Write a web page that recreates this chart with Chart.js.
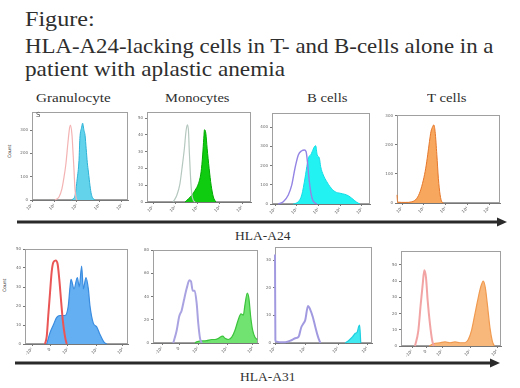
<!DOCTYPE html>
<html><head><meta charset="utf-8">
<script src="https://cdn.jsdelivr.net/npm/chart.js@4.4.0/dist/chart.umd.min.js"></script>
<style>
html,body{margin:0;padding:0;background:#fff;}
#root{position:relative;width:520px;height:388px;overflow:hidden;color:#2e2e2e;}
.t{position:absolute;white-space:nowrap;transform-origin:0 0;line-height:1;font-family:"Liberation Serif","DejaVu Serif","Times New Roman",serif;}
canvas{position:absolute;}
</style></head><body><div id="root"></div>
<script>
// ---------- texts ----------
const titleLines = ["Figure:", "HLA-A24-lacking cells in T- and B-cells alone in a", "patient with aplastic anemia"];
const panelTitles = ["Granulocyte", "Monocytes", "B cells", "T cells"];
const markerLabels = ["HLA-A24", "HLA-A31"];
const yAxisTitle = "Count";
// ---------- tick labels ----------
const logTickLabels = ["10¹", "10²", "10³", "10⁴", "10⁵"];
const biexpTickLabels = ["-10²", "0", "10²", "10³", "10⁴"];
const logTickLabels4 = ["10¹", "10²", "10³", "10⁴"];
// ---------- HLA-A24 row (x in decades) ----------
const granA24CtrlX  = [1.02,1.2,1.33,1.42,1.51,1.6,1.67,1.71,1.78,1.82,1.87,1.91,1.96,2.0];
const granA24CtrlY  = [0,13,48,96,157,248,309,322,278,213,126,48,9,0];
const granA24StainX = [1.76,1.87,1.91,2.01,2.09,2.13,2.21,2.25,2.31,2.36,2.41,2.46,2.51,2.58,2.64,2.70,2.8];
const granA24StainY = [0,9,17,91,170,265,313,330,300,278,220,161,120,61,25,9,0];
const monoA24CtrlX  = [0.9,1.07,1.21,1.32,1.41,1.48,1.54,1.59,1.63,1.68,1.74,1.81,1.89];
const monoA24CtrlY  = [0,4,11,22,32,42,46,43,30,16,5,1,0];
const monoA24StainX = [1.44,1.74,1.89,2.04,2.16,2.23,2.28,2.31,2.37,2.43,2.52,2.61,2.71,2.82];
const monoA24StainY = [0,4,7,11,18,28,38,43,41,32,20,10,3,0];
const bA24CtrlX  = [0.15,0.38,0.61,0.77,0.92,1.07,1.23,1.35,1.43,1.49,1.56,1.64,1.73,1.84,1.92];
const bA24CtrlY  = [0,12,47,99,187,255,277,281,272,220,135,64,21,5,0];
const bA24StainX = [0.84,1.07,1.23,1.38,1.49,1.56,1.64,1.71,1.81,1.87,1.94,2.04,2.10,2.22,2.38,2.53,2.76,2.99,3.22,3.37,3.53,3.76,3.91];
const bA24StainY = [0,12,47,135,213,246,255,272,298,303,255,238,194,151,116,90,64,56,50,43,30,9,0];
const tA24StainX = [-0.23,-0.2,0.14,0.45,0.68,0.83,0.98,1.09,1.18,1.26,1.33,1.41,1.46,1.52,1.6,1.67,1.75,1.83,1.9];
const tA24StainY = [28,3,2,4,16,39,79,120,166,211,246,263,269,246,166,85,28,4,0];
// ---------- HLA-A31 row (x in display channels 0-100) ----------
const granA31CtrlX  = [19.4,21.1,22.6,24.3,25.9,27.5,29.8,31.7,33.3,35,36.6,38.8,40.5];
const granA31CtrlY  = [0,4,15,27,38,43,44,42,34,23,13,4,0];
const granA31StainX = [21.1,24.3,27.5,30.8,34,38.8,42,43.7,44.7,47.6,50.8,52.7,55,56.6,59.2,61.5,63.1,66.3,69.6,72.8,76.7,79.3];
const granA31StainY = [0,6,10,14,15,15,20,30,34,29,35,30,41,29,35,29,20,11,9,5,1,0];
const monoA31CtrlX  = [19.3,22.6,25,27.3,29.5,32.1,34.6,36.2,37.8,39.7,41.6,43.1,44.8,46.4];
const monoA31CtrlY  = [0,11,23,28,37,47,54,53,45,45,34,17,4,0];
const monoA31StainX = [40,41.6,51.1,55.9,59,62.2,66.4,68.6,71.7,75,78.1,81.2,83.8,86,87.6,89.8,91.4,93,94.9,97.1,99.3];
const monoA31StainY = [0,1,2,3,3,4,6,4,3,5,11,20,25,24,33,43,38,23,11,5,3];
const bA31CtrlX  = [0,0.4,1,5.5,10.6,17.5,20.9,24.4,27.1,29.6,31.2,34,36.4,38.9,41.5,44.3,46.7];
const bA31CtrlY  = [32,1,0.5,0.3,0.3,1.1,1.7,2.3,5.7,7.2,8.3,13.4,12,9.5,5.9,2.3,0];
const bA31StainX = [72.5,76.6,80.1,82.8,84.8,86.3,87.3,88.4];
const bA31StainY = [0,1.1,2.3,3.5,4,6,6.5,0];
const tA31CtrlX  = [14,17.3,19.7,21.7,23.3,25,26.7,29,31.3,33];
const tA31CtrlY  = [0,9.3,25.7,38,46.7,42.2,27.8,13.4,3.1,0];
const tA31StainX = [28.3,32.3,39,44,49,54,59,64,67.3,70.7,74,77.3,80,82.3,84.3,86.3,89,91.3,93.3];
const tA31StainY = [0,1.4,2,2.5,2,2.5,2,2,4,10,20,30,37,40,36,26,11,3,0];

const root = document.getElementById('root');
const SERIF = '"Liberation Serif","DejaVu Serif","Times New Roman",serif';

function addText(txt, left, baseline, size, width, extra) {
  const d = document.createElement('div');
  d.className = 't';
  d.textContent = txt;
  d.style.fontFamily = SERIF;
  d.style.fontSize = size + 'px';
  d.style.left = left + 'px';
  d.style.top = (baseline - 0.8375 * size) + 'px';
  if (extra) Object.assign(d.style, extra);
  root.appendChild(d);
  if (width) { const w = d.offsetWidth; d.style.transform = 'scaleX(' + (width / w) + ')'; }
  return d;
}

addText(titleLines[0], 25, 27, 21, 70);
addText(titleLines[1], 25, 54, 21, 468);
addText(titleLines[2], 25, 77, 21, 260);
const titlePos = [[36,75],[165,65],[307,40],[427,39]];
panelTitles.forEach((t,i)=>addText(t, titlePos[i][0], 102, 12.5, titlePos[i][1]));
addText(markerLabels[0], 235, 240, 12, 55);
addText(markerLabels[1], 240, 381, 12, 55);

// arrows
root.insertAdjacentHTML('beforeend',
 '<svg width="520" height="388" style="position:absolute;left:0;top:0">' +
 '<line x1="17" y1="222" x2="500" y2="222" stroke="#2a2a2a" stroke-width="2.8"/>' +
 '<polygon points="497,217.5 507,222 497,226.5" fill="#2a2a2a"/>' +
 '<line x1="15" y1="363" x2="493" y2="363" stroke="#2a2a2a" stroke-width="2.8"/>' +
 '<polygon points="490,358.5 500,363 490,367.5" fill="#2a2a2a"/></svg>');

function ser(x, y, line, fill, w) { return {x, y, line, fill, w}; }
const panels = [
 {box:[32,112,128,200], xMin:0, xMax:4.27, xTicks:[0,1,2,3,4], xLabels:logTickLabels, yMax:378, yTicks:[0,100,200,300],
  series:[ser(granA24CtrlX,granA24CtrlY,'#f4b3b3',null,1.2), ser(granA24StainX,granA24StainY,'#2db2d6','#63d3ec',1)]},
 {box:[147,112,251,202], xMin:-0.27, xMax:4.4, xTicks:[0,1,2,3,4], xLabels:logTickLabels, yMax:53.6, yTicks:[0,10,20,30,40,50],
  series:[ser(monoA24CtrlX,monoA24CtrlY,'#b5c8bf',null,1.2), ser(monoA24StainX,monoA24StainY,'#00a800','#10cc10',1)]},
 {box:[272,113,370,204], xMin:-0.14, xMax:4.37, xTicks:[0,1,2,3,4], xLabels:logTickLabels, yMax:473, yTicks:[0,100,200,300,400],
  series:[ser(bA24CtrlX,bA24CtrlY,'#9484e4',null,1.4), ser(bA24StainX,bA24StainY,'#12dce6','#22f2f2',1)]},
 {box:[397,115,500,203], xMin:-0.23, xMax:4.5, xTicks:[0,1,2,3,4], xLabels:logTickLabels, yMax:303, yTicks:[0,100,200,300],
  series:[ser(tA24StainX,tA24StainY,'#e5772a','#f7a75e',1)]},
 {box:[25,249,128,344], xMin:0, xMax:100, xTicks:[6.8,24.3,41.7,69.9,95.1], xLabels:biexpTickLabels, yMax:50, yTicks:[0,10,20,30,40,50],
  series:[ser(granA31CtrlX,granA31CtrlY,'#ea5656',null,2), ser(granA31StainX,granA31StainY,'#3a8ce0','#64aff2',1.2)]},
 {box:[153,250,258,343], xMin:0, xMax:100, xTicks:[8.6,24.8,42.9,70.5,95.2], xLabels:biexpTickLabels, yMax:80, yTicks:[0,20,40,60,80],
  series:[ser(monoA31CtrlX,monoA31CtrlY,'#aaa3e2',null,2), ser(monoA31StainX,monoA31StainY,'#3cc43c','#70e370',1.2)]},
 {box:[275,247,372,343], xMin:0, xMax:100, xTicks:[0,31,65,95], xLabels:logTickLabels4, yMax:34.7, yTicks:[0,10,20,30],
  series:[ser(bA31CtrlX,bA31CtrlY,'#a29ae0',null,2), ser(bA31StainX,bA31StainY,'#1ed0e0','#40e8f0',1.2)]},
 {box:[401,251,501,346], xMin:0, xMax:100, xTicks:[11,25,41,69,96], xLabels:biexpTickLabels, yMax:58.6, yTicks:[0,10,20,30,40,50],
  series:[ser(tA31CtrlX,tA31CtrlY,'#f2a4a4',null,2), ser(tA31StainX,tA31StainY,'#f09a50','#f9b87b',1.2)]},
];

const framePlugin = {id:'frame', beforeDatasetsDraw(ch){
  const a = ch.chartArea, c = ch.ctx; c.save(); c.strokeStyle = '#a0a0a0'; c.lineWidth = 1;
  c.strokeRect(Math.round(a.left)+0.5, Math.round(a.top)+0.5, Math.round(a.right-a.left)-1, Math.round(a.bottom-a.top)-1);
  c.restore(); }};

const PT = 6, PR = 6, YW = 16, XH = 14;
panels.forEach(p => {
  const [l,t,r,b] = p.box;
  const c = document.createElement('canvas');
  const w = YW + (r-l) + PR, h = PT + (b-t) + XH;
  c.width = w; c.height = h;
  c.style.left = (l-YW)+'px'; c.style.top = (t-PT)+'px'; c.style.width = w+'px'; c.style.height = h+'px';
  root.appendChild(c);
  new Chart(c, {
    type:'line',
    data:{datasets:p.series.map((s,i)=>({
      data:s.x.map((v,k)=>({x:v,y:s.y[k]})), borderColor:s.line, backgroundColor:s.fill||'rgba(0,0,0,0)',
      fill:s.fill?'origin':false, borderWidth:s.w, pointRadius:0, cubicInterpolationMode:'monotone', order:i}))},
    options:{responsive:false, animation:false, events:[], clip:false,
      layout:{padding:{top:PT,right:PR,left:0,bottom:0}},
      plugins:{legend:{display:false}, tooltip:{enabled:false}},
      scales:{
        x:{type:'linear', min:p.xMin, max:p.xMax,
           afterBuildTicks:s=>{s.ticks=p.xTicks.map(v=>({value:v}));},
           afterFit:s=>{s.height=XH;},
           ticks:{font:{size:4,family:'DejaVu Sans'}, color:'#666', minRotation:45, maxRotation:45, autoSkip:false, padding:1,
                  callback:(v,i)=>p.xLabels[i]},
           grid:{display:true, drawOnChartArea:false, tickLength:2, color:'#777'}, border:{color:'#777'}},
        y:{min:0, max:p.yMax,
           afterBuildTicks:s=>{s.ticks=p.yTicks.map(v=>({value:v}));},
           afterFit:s=>{s.width=YW;},
           ticks:{font:{size:4,family:'DejaVu Sans'}, color:'#666', autoSkip:false, padding:2, callback:v=>String(v)},
           grid:{display:true, drawOnChartArea:false, tickLength:2, color:'#777'}, border:{color:'#777'}}
      }},
    plugins:[framePlugin]
  });
});

// y-axis titles and small annotation
addText(yAxisTitle, 8, 162, 4.5, 0, {fontFamily:'DejaVu Sans', transform:'rotate(-90deg)'});
addText(yAxisTitle, 3, 296, 4.5, 0, {fontFamily:'DejaVu Sans', transform:'rotate(-90deg)'});
addText("S", 36, 118, 7, 0, {fontFamily:'DejaVu Sans', color:'#555'});
</script></body></html>
